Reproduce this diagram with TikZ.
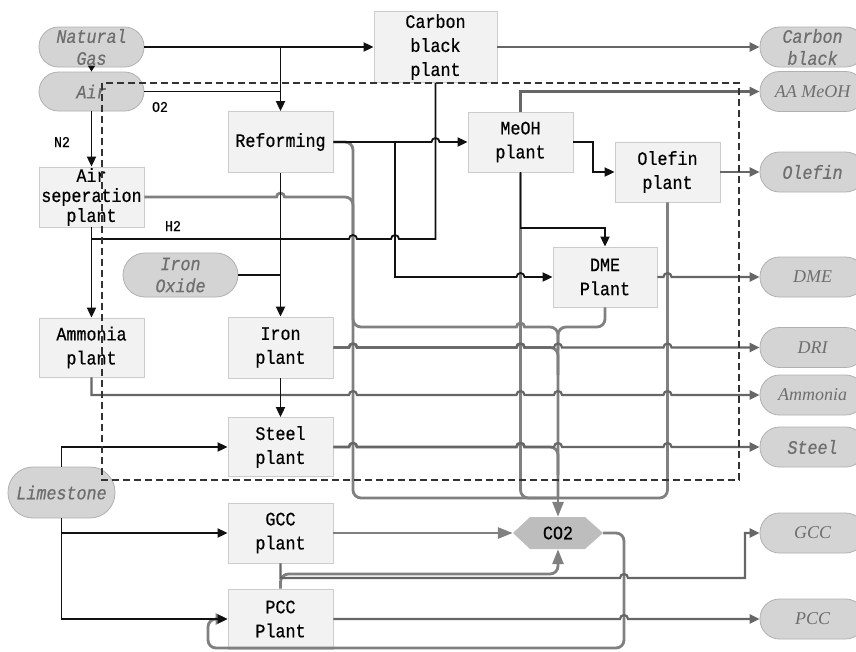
\documentclass[tikz,border=0pt]{standalone}
\usepackage{fontspec}
\newfontfamily\monof[FakeBold=0.6, FakeStretch=0.88]{Liberation Mono}
\newfontfamily\serff{Liberation Serif}
\usetikzlibrary{arrows.meta}
\definecolor{boxfill}{HTML}{F2F2F2}
\definecolor{boxdraw}{HTML}{CCCCCC}
\definecolor{termfill}{HTML}{D4D4D4}
\definecolor{termdraw}{HTML}{B0B0B0}
\definecolor{termtext}{HTML}{6E6E6E}
\definecolor{blackline}{HTML}{111111}
\definecolor{grayline}{HTML}{808080}
\definecolor{outline}{HTML}{666666}
\definecolor{cotwofill}{HTML}{BDBDBD}
\definecolor{dashcol}{HTML}{333333}
\newcommand\hp[2]{-- (#1-4,#2) arc[start angle=180,end angle=360,radius=4]}
\begin{document}
\begin{tikzpicture}[x=1pt,y=-1pt,
  box/.style={draw=boxdraw, fill=boxfill, line width=0.8pt, align=center, inner sep=0pt,
    minimum width=105pt, minimum height=60pt, font=\monof\fontsize{19}{24}\selectfont},
  term/.style={draw=termdraw, fill=termfill, line width=0.8pt, align=center, inner sep=0pt,
    minimum width=105pt, minimum height=40pt, rounded corners=19.5pt, text=termtext,
    font=\monof\itshape\fontsize{19}{22}\selectfont},
  sterm/.style={term, font=\serff\itshape\fontsize{18}{21}\selectfont},
  blk/.style={draw=blackline, line width=1.8pt},
  blka/.style={blk, -{Triangle[length=10pt,width=9pt]}},
  gry/.style={draw=grayline, line width=2.8pt},
  grya/.style={gry, -{Triangle[length=15pt,width=11pt]}},
  outl/.style={draw=outline, line width=2.2pt},
  outa/.style={outl, -{Triangle[length=10pt,width=9pt]}},
  lbl/.style={font=\monof\fontsize{15}{16}\selectfont}
]
\useasboundingbox (0,0) rectangle (856,651);

% inputs
\node[term] (ng) at (91.5,47) {Natural\\Gas};
\node[term, minimum height=39pt] (air) at (91.5,91.5) {Air};
\node[term, minimum width=115pt, minimum height=44pt, rounded corners=22pt] (iox) at (180.5,275) {Iron\\Oxide};
\node[term, minimum width=107pt, minimum height=51pt, rounded corners=25pt] (lime) at (61.5,492.5) {Limestone};

% plants
\node[box, font=\monof\fontsize{19}{20}\selectfont] (asp) at (91.5,197) {Air\\seperation\\plant};
\node[box, minimum height=61pt] (ref) at (280.5,142) {Reforming};
\node[box, minimum width=123pt, minimum height=71pt] (cbp) at (435.5,47) {Carbon\\black\\plant};
\node[box] (meoh) at (520.5,142) {MeOH\\plant};
\node[box] (olef) at (667.5,172) {Olefin\\plant};
\node[box, minimum width=104pt] (dme) at (605,277) {DME\\Plant};
\node[box, minimum height=59pt] (amp) at (91.5,347.5) {Ammonia\\plant};
\node[box, minimum height=61pt] (ironp) at (280.5,347.5) {Iron\\plant};
\node[box, minimum height=59pt] (steelp) at (280.5,447) {Steel\\plant};
\node[box] (gcc) at (280.5,533) {GCC\\plant};
\node[box] (pcc) at (280.5,619) {PCC\\Plant};

% CO2
\fill[cotwofill] (513,533) -- (530,517) -- (585,517) -- (603,533) -- (585,549) -- (530,549) -- cycle;
\node[minimum width=90pt, minimum height=32pt, inner sep=0pt, font=\monof\fontsize{19}{20}\selectfont] (co2) at (558,533) {CO2};

% outputs
\node[term] (ocb) at (812.5,47) {Carbon\\black};
\node[sterm] (oaa) at (812.5,91.5) {AA MeOH};
\node[term] (oole) at (812.5,172) {Olefin};
\node[sterm] (odme) at (812.5,277) {DME};
\node[sterm] (odri) at (812.5,347.5) {DRI};
\node[sterm] (oamm) at (812.5,395) {Ammonia};
\node[term] (ostl) at (812.5,447) {Steel};
\node[sterm] (ogcc) at (812.5,533) {GCC};
\node[sterm] (opcc) at (812.5,619) {PCC};

% labels
\node[lbl] (lo2) at (160,107) {O2};
\node[lbl] (ln2) at (62,142) {N2};
\node[lbl] (lh2) at (173,226) {H2};

% branch coordinates
\coordinate (brng) at (280.5,47);
\coordinate (brair) at (280.5,91.5);
\coordinate (brdme) at (395,142);
\coordinate (co2in) at (558,498);

% ---- gray CO2 lines
\draw[gry] (asp.east) \hp{280.5}{197} -- (300,197) [rounded corners=8pt] -- (353,197) -- (353,498) -- (667.5,498) -- (olef.south);
\draw[gry, rounded corners=8pt] (ref.east) -- (353,142) -- (353,327) -- (505,327) [sharp corners] \hp{520.5}{327} -- (540,327) [rounded corners=8pt] -- (558,327) -- (558,498);
\draw[gry, rounded corners=8pt] (meoh.south) -- (520.5,498) -- (558,498);
\draw[gry, rounded corners=8pt] (dme.south) -- (605,327) -- (558,327) -- (558,350);
\draw[gry] (ironp.east) \hp{353}{347.5} \hp{520.5}{347.5} -- (540,347.5) [rounded corners=8pt] -- (558,347.5) -- (558,375);
\draw[gry] (steelp.east) \hp{353}{447} \hp{520.5}{447} -- (540,447) [rounded corners=8pt] -- (558,447) -- (558,475);
\draw[grya] (co2in) -- (co2.north);
\draw[grya] (gcc.east) -- (co2.west);
\draw[grya, rounded corners=8pt] (pcc.north) -- (280.5,574) -- (558,574) -- (co2.south);
\draw[gry, -{Triangle[length=12pt,width=11pt]}, rounded corners=8pt] (co2.east) -- (624,533) -- (624,648) -- (208,648) -- (208,619) -- (pcc.west);

% ---- output lines
\draw[outa] (cbp.east) -- (ocb.west);
\draw[outa] (meoh.north) |- (oaa.west);
\draw[outa] (olef.east) -- (oole.west);
\draw[outa] (dme.east) \hp{667.5}{277} -- (odme.west);
\draw[outa] (ironp.east) \hp{353}{347.5} \hp{520.5}{347.5} \hp{558}{347.5} \hp{667.5}{347.5} -- (odri.west);
\draw[outa] (amp.south) -- (91.5,395) \hp{353}{395} \hp{520.5}{395} \hp{558}{395} \hp{667.5}{395} -- (oamm.west);
\draw[outa] (steelp.east) \hp{353}{447} \hp{520.5}{447} \hp{558}{447} \hp{667.5}{447} -- (ostl.west);
\draw[outa] (gcc.south) -- (280.5,578) \hp{624}{578} -- (745,578) |- (ogcc.west);
\draw[outa] (pcc.east) \hp{624}{619} -- (opcc.west);

% ---- black lines
\draw[blka] (ng.east) -- (cbp.west);
\draw[blka] (brng) -- (ref.north);
\draw[blk] (air.east) -- (brair);
\draw[blk, -{Triangle[length=6pt,width=7pt]}] (ng.south) -- (air.north);
\draw[blka] (air.south) -- (asp.north);
\draw[blka] (asp.south) -- (amp.north);
\draw[blk] (asp.south |- 0,239) -- (300,239) \hp{353}{239} \hp{395}{239} -- (cbp.south |- 0,239) -- (cbp.south);
\draw[blka] (ref.east) \hp{435.5}{142} -- (meoh.west);
\draw[blka] (ref.south) -- (ironp.north);
\draw[blk] (iox.east) -- (ref.south |- iox.east);
\draw[blka] (brdme) -- (395,277) \hp{520.5}{277} -- (dme.west);
\draw[blka] (meoh.east) -- (593,142) |- (olef.west);
\draw[blka] (meoh.south) -- (520.5,228) -| (dme.north);
\draw[blka] (ironp.south) -- (steelp.north);
\draw[blka] (lime.north) |- (steelp.west);
\draw[blka] (lime.south) |- (pcc.west);
\draw[blka] (lime.south |- gcc.west) -- (gcc.west);

% dashed boundary
\draw[dashcol, line width=1.2pt, dash pattern=on 7pt off 4pt] (102,83) rectangle (739,480);
\end{tikzpicture}
\end{document}
